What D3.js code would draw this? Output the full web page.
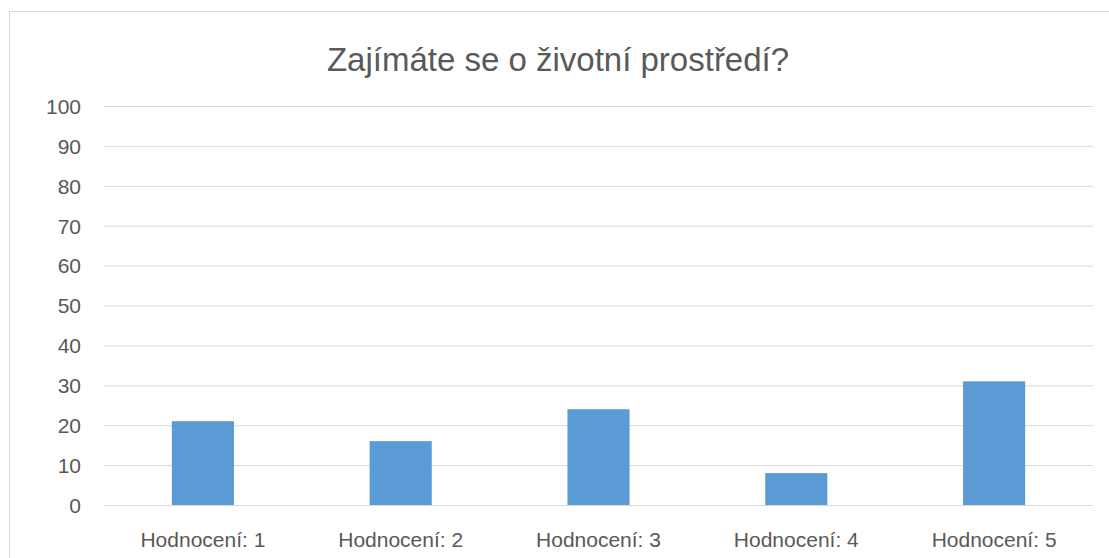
<!DOCTYPE html>
<html>
<head>
<meta charset="utf-8">
<script src="https://cdnjs.cloudflare.com/ajax/libs/d3/7.8.5/d3.min.js"></script>
<style>
  body { margin: 0; background: #fff; }
  text { font-family: "Liberation Sans", Arial, sans-serif; fill: #595959; }
</style>
</head>
<body>
<svg id="chart" width="1109" height="558"></svg>
<script>
const categories = ['Hodnocení: 1', 'Hodnocení: 2', 'Hodnocení: 3', 'Hodnocení: 4', 'Hodnocení: 5'];
const values = [21, 16, 24, 8, 31];
const y_ticks = [0, 10, 20, 30, 40, 50, 60, 70, 80, 90, 100];
const title = 'Zajímáte se o životní prostředí?';

const svg = d3.select('#chart');
const plot_left = 104, plot_right = 1093, plot_top = 106, plot_bottom = 505;

// chart area border (right/bottom edges run off the picture)
svg.append('rect')
  .attr('x', 9.5).attr('y', 11.5)
  .attr('width', 1110).attr('height', 560)
  .attr('fill', 'none').attr('stroke', '#d9d9d9');

svg.append('text')
  .attr('x', 558).attr('y', 71)
  .attr('text-anchor', 'middle')
  .style('font-size', '33px')
  .text(title);

let x = d3.scaleBand().domain(categories).range([plot_left, plot_right]).paddingInner(0.686).paddingOuter(0.343);
let y = d3.scaleLinear().domain([0, 100]).range([plot_bottom, plot_top]);

let grid = svg.append('g').attr('transform', 'translate(' + plot_left + ',0)')
  .call(d3.axisLeft(y).tickValues(y_ticks).tickSize(-(plot_right - plot_left)).tickFormat(''));
grid.select('.domain').remove();
grid.selectAll('.tick line').attr('stroke', '#d9d9d9').attr('stroke-width', 1);

let yAxis = svg.append('g').attr('transform', 'translate(81,0)')
  .call(d3.axisLeft(y).tickValues(y_ticks).tickSize(0).tickPadding(0));
yAxis.select('.domain').remove();
yAxis.selectAll('text').style('font-size', '21px').attr('fill', '#595959').attr('dy', '0.35em');

svg.append('g').selectAll('rect').data(values).join('rect')
  .attr('x', (d, i) => x(categories[i]))
  .attr('y', d => y(d))
  .attr('width', x.bandwidth())
  .attr('height', d => y(0) - y(d))
  .attr('fill', '#5b9bd5');

let xAxis = svg.append('g').attr('transform', 'translate(0,' + plot_bottom + ')')
  .call(d3.axisBottom(x).tickSize(0).tickPadding(0));
xAxis.select('.domain').remove();
xAxis.selectAll('text').style('font-size', '21px').attr('fill', '#595959').attr('dy', null).attr('y', 42);
</script>
</body>
</html>
